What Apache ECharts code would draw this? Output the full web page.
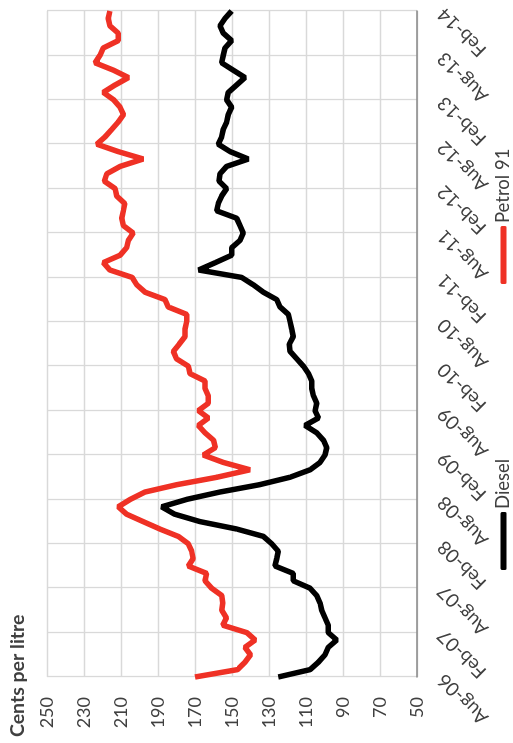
<!DOCTYPE html>
<html>
<head>
<meta charset="utf-8">
<script src="https://cdn.jsdelivr.net/npm/echarts@6/dist/echarts.min.js"></script>
<style>
html,body{margin:0;padding:0;background:#fff;overflow:hidden;}
#wrap{position:absolute;left:0;top:0;width:513px;height:743px;overflow:hidden;}
#chart{position:absolute;left:0;top:0;width:743px;height:513px;transform-origin:0 0;transform:translateY(743px) rotate(-90deg);}
</style>
</head>
<body>
<div id="wrap"><div id="chart"></div></div>
<script>
var months = [
"Aug-06","Sep-06","Oct-06","Nov-06","Dec-06","Jan-07","Feb-07","Mar-07","Apr-07","May-07","Jun-07","Jul-07",
"Aug-07","Sep-07","Oct-07","Nov-07","Dec-07","Jan-08","Feb-08","Mar-08","Apr-08","May-08","Jun-08","Jul-08",
"Aug-08","Sep-08","Oct-08","Nov-08","Dec-08","Jan-09","Feb-09","Mar-09","Apr-09","May-09","Jun-09","Jul-09",
"Aug-09","Sep-09","Oct-09","Nov-09","Dec-09","Jan-10","Feb-10","Mar-10","Apr-10","May-10","Jun-10","Jul-10",
"Aug-10","Sep-10","Oct-10","Nov-10","Dec-10","Jan-11","Feb-11","Mar-11","Apr-11","May-11","Jun-11","Jul-11",
"Aug-11","Sep-11","Oct-11","Nov-11","Dec-11","Jan-12","Feb-12","Mar-12","Apr-12","May-12","Jun-12","Jul-12",
"Aug-12","Sep-12","Oct-12","Nov-12","Dec-12","Jan-13","Feb-13","Mar-13","Apr-13","May-13","Jun-13","Jul-13",
"Aug-13","Sep-13","Oct-13","Nov-13","Dec-13","Jan-14","Feb-14"
];
var petrol91 = [
170,147,143,140,143,137.5,142,155,153,155.5,155,155.5,
161,164.6,163.7,173.6,171,171.8,173.6,179,189,198,207,211.5,
205,197,179.6,158,140.3,154.7,165.5,159,160,164.6,168.2,162.8,
168.2,162.8,162.8,164.6,164.6,172.7,173.6,180,181.7,178.5,175.4,175.4,
174.5,174.5,184.4,186.2,197,201.5,204,216,219.6,210.5,207,206,
203.4,208.7,209.6,208.7,208,212.3,213.2,219,217.7,210.5,198,211.5,
223,218.6,215,211.5,208.7,210.5,214,219.6,213.2,206,214,224,
221.4,219.6,211.5,211.5,216,216.9,216
];
var diesel = [
125,107.8,103.3,99.7,98,93.4,98,98,99.7,101.5,102.4,104.2,
107.8,116.9,116.9,126.8,125.8,125,128.5,133,147.5,167.3,181,188,
174.5,156.5,134.9,118.6,107.8,102.4,99.7,98.8,100.6,104.2,110.5,103.3,
105.1,104.2,106,106.9,106.9,108.7,111.4,115,118.6,119,116.9,117.7,
118.6,119.5,124,125.8,133,138.5,144.8,168,159,150.2,150.2,145.7,
143.9,145.7,147.5,158.3,157.4,155.6,152.9,157,156.5,152.9,141.2,151,
157.4,155.6,154.7,152.9,152,150.2,152.9,152,147.5,143,149.3,155.6,
154.7,153.8,150.2,154.7,156.5,153.8,150.2
];
var seriesNames = ["Diesel","Petrol 91"];
var yTitle = "Cents per litre";

var chart = echarts.init(document.getElementById('chart'), null, {width:743, height:513, renderer:'canvas'});
var FONT = 'Lato, "Liberation Sans", sans-serif';
var legendBase = {
  top:489, itemWidth:58, itemHeight:6, icon:'roundRect',
  textStyle:{fontFamily:FONT, fontSize:18.5, color:'#404040', padding:[0,0,0,-2]}
};
chart.setOption({
  animation:false,
  backgroundColor:'#fff',
  title:{
    text:yTitle, left:1, top:3,
    textStyle:{fontFamily:FONT, fontSize:19.5, fontWeight:'bold', color:'#404040'}
  },
  legend:[
    Object.assign({data:[seriesNames[0]], left:168}, legendBase),
    Object.assign({data:[seriesNames[1]], left:454}, legendBase)
  ],
  grid:{left:66, right:11, top:47, bottom:96, containLabel:false},
  xAxis:{
    type:'category', data:months, boundaryGap:false,
    axisLine:{show:true, lineStyle:{color:'#888888', width:1.5}},
    axisTick:{show:false},
    axisLabel:{interval:5, rotate:45, margin:24, fontFamily:FONT, fontSize:19, color:'#404040'},
    splitLine:{show:true, interval:5, lineStyle:{color:'#d9d9d9', width:1.3}}
  },
  yAxis:{
    type:'value', min:50, max:250, interval:20,
    axisLine:{show:false}, axisTick:{show:false},
    axisLabel:{margin:20, fontFamily:FONT, fontSize:18, color:'#404040'},
    splitLine:{show:true, lineStyle:{color:'#d9d9d9', width:1.3}}
  },
  series:[
    {name:seriesNames[0], type:'line', data:diesel, showSymbol:false, symbol:'none',
     lineStyle:{color:'#000000', width:5.5}, itemStyle:{color:'#000000'}},
    {name:seriesNames[1], type:'line', data:petrol91, showSymbol:false, symbol:'none',
     lineStyle:{color:'#EF3125', width:5.5}, itemStyle:{color:'#EF3125'}}
  ]
});
</script>
</body>
</html>
